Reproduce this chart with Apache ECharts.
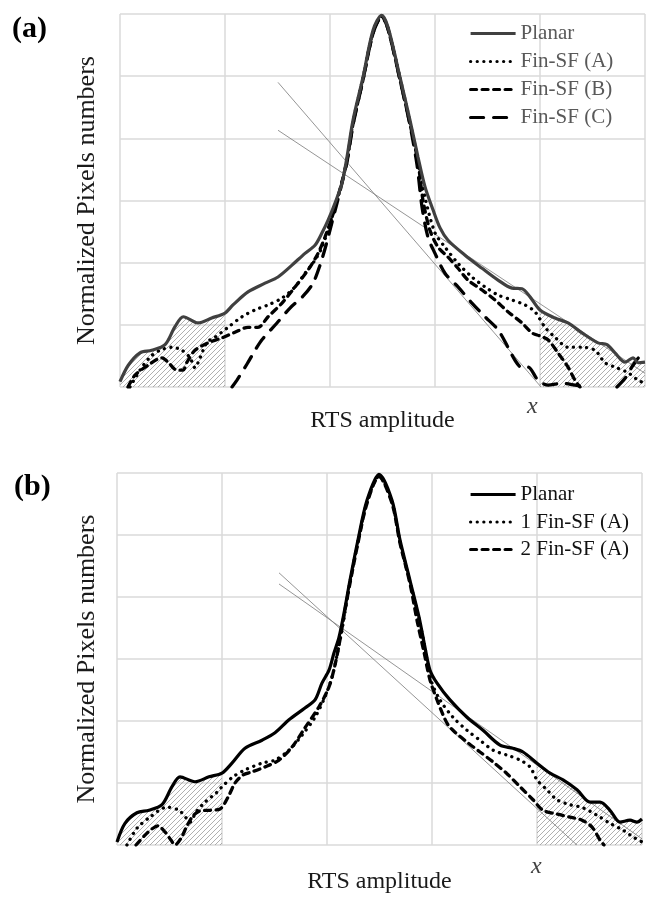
<!DOCTYPE html>
<html>
<head>
<meta charset="utf-8">
<title>RTS amplitude histograms</title>
<script src="https://cdn.jsdelivr.net/npm/echarts@6/dist/echarts.min.js"></script>
<style>
  body { margin: 0; padding: 0; background: #fff; }
  #main { width: 654px; height: 897px; }
</style>
</head>
<body>
<div id="main"></div>
<script>
// panel (a) curves, [amplitude, normalized count]
var planarA = [[0,0.085],[0.79,0.35],[1.9,0.55],[3.02,0.59],[4.29,0.68],[5.24,0.97],[6.03,1.13],[7.43,1.03],[8.73,1.11],[10,1.19],[10.76,1.32],[12.19,1.53],[13.81,1.67],[15.05,1.77],[16.38,1.96],[17.62,2.15],[18.57,2.28],[19.24,2.48],[19.81,2.68],[20.48,2.96],[21.14,3.28],[21.62,3.7],[22.19,4.29],[23.14,4.98],[24.1,5.74],[24.92,5.98],[25.52,5.79],[26.67,4.98],[27.62,4.29],[28.38,3.7],[29.05,3.22],[29.81,2.85],[30.48,2.56],[31.24,2.36],[32.86,2.12],[34.48,1.91],[36,1.72],[37.33,1.59],[38.29,1.58],[39.05,1.45],[40,1.24],[41.43,1.11],[42.67,1.03],[44,0.87],[45.52,0.71],[46.38,0.68],[47.14,0.55],[48.1,0.4],[48.86,0.47],[49.33,0.39],[50,0.4]];
var finA_a = [[0.95,0],[1.9,0.27],[2.86,0.48],[3.81,0.59],[4.95,0.64],[5.9,0.59],[6.67,0.47],[7.14,0.31],[7.62,0.47],[8.29,0.72],[9.05,0.8],[10.29,0.96],[11.62,1.13],[12.86,1.24],[14.1,1.32],[15.43,1.43],[16.67,1.61],[17.62,1.83],[18.57,2.04],[19.24,2.25],[19.81,2.52],[20.29,2.8],[20.95,3.17],[21.62,3.65],[22.19,4.26],[23.14,4.97],[24.1,5.71],[24.92,5.97],[25.52,5.77],[26.67,4.97],[27.62,4.26],[28.38,3.65],[29.05,3.05],[30,2.48],[30.95,2.25],[32.19,1.99],[33.52,1.77],[34.76,1.61],[36,1.48],[37.33,1.4],[38.57,1.32],[39.52,1.21],[40.48,0.96],[41.43,0.8],[42.67,0.64],[44,0.64],[45.24,0.59],[46.19,0.39],[47.14,0.32],[48.38,0.23],[49.33,0.11],[50,0.06]];
var finB_a = [[0.76,0],[1.43,0.19],[2.67,0.35],[4,0.47],[4.57,0.4],[5.43,0.27],[6,0.27],[6.38,0.4],[7.14,0.59],[8.38,0.71],[9.71,0.79],[10.95,0.88],[12.19,0.96],[13.14,0.96],[14.1,1.13],[15.43,1.35],[16.67,1.61],[17.9,1.88],[18.86,2.15],[19.52,2.41],[20.19,2.73],[20.67,3.01],[21.14,3.3],[21.62,3.65],[22.19,4.23],[23.14,4.94],[24.1,5.69],[24.92,5.96],[25.52,5.76],[26.67,4.94],[27.62,4.23],[28.38,3.62],[28.86,3.0],[29.52,2.52],[30.29,2.25],[31.24,2.09],[32.19,1.91],[33.14,1.72],[34.48,1.56],[35.71,1.4],[36.95,1.21],[38.29,1.03],[39.24,0.87],[40,0.82],[40.76,0.76],[41.71,0.55],[42.67,0.32],[43.33,0.11],[43.81,0]];
var finC_a = [[10.67,0],[11.14,0.11],[12.1,0.37],[12.86,0.59],[13.52,0.76],[14.95,1.03],[16.19,1.27],[17.43,1.46],[18.38,1.67],[19.05,1.96],[19.62,2.28],[20.19,2.65],[20.67,2.96],[21.14,3.28],[21.62,3.62],[22.19,4.21],[23.14,4.94],[24.1,5.69],[24.92,5.96],[25.52,5.76],[26.67,4.94],[27.62,4.21],[28.29,3.57],[28.76,2.9],[29.33,2.41],[30,2.15],[30.95,1.83],[32.19,1.61],[33.52,1.35],[34.76,1.13],[36,0.92],[36.95,0.64],[37.62,0.43],[38.29,0.31],[38.86,0.32],[39.81,0.11],[40.76,0.03],[42.1,0.06],[43.33,0.03],[44.29,0],null,[47.33,0],[48.1,0.14],[48.86,0.35],[49.52,0.48],[50,0.4]];

// panel (b) curves
var planarB = [[0,0.05],[0.76,0.35],[1.9,0.52],[3.05,0.56],[4.29,0.65],[5.24,0.94],[6,1.1],[7.43,1.02],[8.76,1.1],[10,1.16],[10.95,1.32],[12.19,1.56],[13.81,1.69],[15.05,1.81],[16.38,2.02],[17.9,2.21],[18.86,2.34],[19.52,2.61],[20.19,2.82],[20.67,3.1],[21.14,3.35],[21.62,3.74],[22.19,4.27],[22.95,4.92],[23.81,5.56],[24.95,5.98],[26.19,5.56],[26.95,4.92],[27.9,4.27],[28.76,3.68],[29.33,3.19],[29.81,2.82],[30.48,2.61],[31.71,2.34],[33.33,2.06],[34.86,1.85],[36.48,1.61],[37.71,1.56],[38.67,1.5],[40,1.32],[41.24,1.16],[42.48,1.05],[43.81,0.89],[45.05,0.69],[46,0.69],[46.95,0.56],[47.9,0.37],[48.86,0.4],[49.52,0.37],[50,0.42]];
var fin1_b = [[0.95,0],[1.9,0.27],[3.14,0.45],[4.76,0.61],[5.9,0.56],[6.57,0.44],[6.95,0.37],[7.52,0.53],[8.38,0.69],[9.52,0.85],[10,0.94],[11.05,1.1],[12.19,1.21],[13.81,1.32],[15.05,1.37],[16.38,1.53],[17.62,1.77],[18.86,2.06],[19.81,2.39],[20.48,2.71],[20.95,3.06],[21.43,3.47],[22.19,4.24],[22.95,4.89],[23.81,5.53],[24.95,5.95],[26.19,5.53],[26.95,4.89],[27.9,4.24],[28.76,3.65],[29.33,3.18],[29.9,2.66],[30.76,2.34],[32,2.06],[33.33,1.85],[34.57,1.69],[35.81,1.53],[37.14,1.45],[38.38,1.37],[39.33,1.26],[40,1.05],[40.95,0.89],[41.9,0.73],[43.14,0.65],[44.38,0.6],[45.71,0.48],[46.95,0.35],[48.19,0.24],[49.14,0.13],[50,0.05]];
var fin2_b = [[1.81,0],[2.67,0.16],[3.33,0.26],[3.9,0.31],[4.57,0.21],[5.14,0.08],[5.52,0],[6.1,0.11],[6.67,0.31],[7.24,0.47],[7.9,0.55],[8.86,0.56],[9.81,0.58],[10.57,0.77],[11.24,1.0],[12,1.13],[12.86,1.18],[14.1,1.26],[15.43,1.37],[16.67,1.58],[17.9,1.89],[19.24,2.23],[20.19,2.55],[20.76,2.9],[21.24,3.31],[21.62,3.7],[22.19,4.22],[22.95,4.87],[23.81,5.51],[24.95,5.94],[26.19,5.51],[26.95,4.87],[27.9,4.22],[28.6,3.6],[29.24,3.11],[29.81,2.66],[30.48,2.34],[31.05,2.1],[31.52,1.94],[32.19,1.82],[33.33,1.66],[34.57,1.5],[35.81,1.34],[37.14,1.15],[38.38,0.94],[39.62,0.73],[40.57,0.56],[41.9,0.5],[43.14,0.45],[44.29,0.4],[45.24,0.29],[46,0.08],[46.38,0]];

// thin tangent lines
var tangentA1 = [[15.05,4.9],[40.1,0]];
var tangentA2 = [[15.05,4.13],[50,0.22]];
var tangentB1 = [[15.43,4.39],[43.8,0]];
var tangentB2 = [[15.43,4.21],[50,0.1]];

// hatched tails
var tailLeftEnd = 10;
var tailRightStart = 40;

var legendA = ['Planar', 'Fin-SF (A)', 'Fin-SF (B)', 'Fin-SF (C)'];
var legendB = ['Planar #b', '1 Fin-SF (A)', '2 Fin-SF (A)'];

var serif = '"Liberation Serif", "DejaVu Serif", serif';

// diagonal hatch tile
var hatch = (function () {
  var c = document.createElement('canvas');
  c.width = 5; c.height = 5;
  var g = c.getContext('2d');
  g.strokeStyle = '#9c9c9c';
  g.lineWidth = 0.8;
  g.beginPath();
  g.moveTo(0, 5); g.lineTo(5, 0);
  g.moveTo(-1, 1); g.lineTo(1, -1);
  g.moveTo(4, 6); g.lineTo(6, 4);
  g.stroke();
  return c;
})();

var styles = {
  solidA: { color: '#404040', width: 3.2, type: 'solid' },
  solidB: { color: '#000', width: 3.2, type: 'solid' },
  dot: { color: '#000', width: 3.3, type: [0.1, 6.5], cap: 'round' },
  dash: { color: '#000', width: 3.3, type: [6, 5.5], cap: 'round' },
  longDash: { color: '#000', width: 3.3, type: [13, 10], cap: 'round' }
};

function curve(name, data, idx, ls) {
  return {
    name: name, type: 'line', data: data,
    xAxisIndex: idx, yAxisIndex: idx,
    symbol: 'none', smooth: 0.3, z: 5,
    lineStyle: ls, connectNulls: false
  };
}
function thin(name, data, idx) {
  return {
    name: name, type: 'line', data: data,
    xAxisIndex: idx, yAxisIndex: idx,
    symbol: 'none', silent: true, z: 4,
    lineStyle: { color: '#7a7a7a', width: 0.8 }
  };
}
function tail(name, data, idx) {
  return {
    name: name, type: 'line', data: data,
    xAxisIndex: idx, yAxisIndex: idx,
    symbol: 'none', smooth: 0.3, silent: true, z: 2,
    lineStyle: { color: '#b0b0b0', width: 1 },
    areaStyle: { color: { image: hatch, repeat: 'repeat' }, opacity: 1 }
  };
}

function xAx(idx) {
  return {
    type: 'value', gridIndex: idx, min: 0, max: 50, interval: 10,
    name: 'RTS amplitude', nameLocation: 'middle', nameGap: idx ? 25 : 22,
    nameTextStyle: { fontFamily: serif, fontSize: 24, color: '#1a1a1a' },
    axisLabel: { show: false }, axisTick: { show: false },
    axisLine: { show: false },
    splitLine: { show: true, lineStyle: { color: '#dadada', width: 1.5 } }
  };
}
function yAx(idx) {
  return {
    type: 'value', gridIndex: idx, min: 0, max: 6, interval: 1,
    name: 'Normalized Pixels numbers', nameLocation: 'middle', nameGap: idx ? 17 : 20,
    nameTextStyle: { fontFamily: serif, fontSize: 26, color: '#1a1a1a' },
    axisLabel: { show: false }, axisTick: { show: false },
    axisLine: { show: false },
    splitLine: { show: true, lineStyle: { color: '#dadada', width: 1.5 } }
  };
}

function legendBox(names, top, gap, color) {
  return {
    data: names, orient: 'vertical', left: 464, top: top,
    itemWidth: 45, itemHeight: 18, itemGap: gap,
    selectedMode: false,
    itemStyle: { opacity: 0 },
    lineStyle: { width: 3.2 },
    formatter: function (n) { return n.replace(' #b', ''); },
    textStyle: { fontFamily: serif, fontSize: 21, lineHeight: 20, color: color }
  };
}

var chart = echarts.init(document.getElementById('main'), null, { renderer: 'canvas' });
chart.setOption({
  animation: false,
  grid: [
    { left: 120, top: 14, width: 525, height: 373 },
    { left: 117, top: 473, width: 525, height: 372 }
  ],
  xAxis: [xAx(0), xAx(1)],
  yAxis: [yAx(0), yAx(1)],
  legend: [legendBox(legendA, 18, 7, '#595959'), legendBox(legendB, 479, 6.5, '#111')],
  graphic: [
    { type: 'text', left: 12, top: 14, style: { text: '(a)', font: 'bold 30px ' + serif, fill: '#000' } },
    { type: 'text', left: 14, top: 472, style: { text: '(b)', font: 'bold 30px ' + serif, fill: '#000' } },
    { type: 'text', left: 527, top: 395, style: { text: 'x', font: 'italic 24px ' + serif, fill: '#404040' } },
    { type: 'text', left: 531, top: 855, style: { text: 'x', font: 'italic 24px ' + serif, fill: '#404040' } }
  ],
  series: [
    tail('tailA-left', planarA.filter(function (p) { return p[0] <= tailLeftEnd; }), 0),
    tail('tailA-right', planarA.filter(function (p) { return p[0] >= tailRightStart; }), 0),
    thin('tangentA1', tangentA1, 0),
    thin('tangentA2', tangentA2, 0),
    curve('Fin-SF (C)', finC_a, 0, styles.longDash),
    curve('Fin-SF (B)', finB_a, 0, styles.dash),
    curve('Fin-SF (A)', finA_a, 0, styles.dot),
    curve('Planar', planarA, 0, styles.solidA),

    tail('tailB-left', planarB.filter(function (p) { return p[0] <= tailLeftEnd; }), 1),
    tail('tailB-right', planarB.filter(function (p) { return p[0] >= tailRightStart; }), 1),
    thin('tangentB1', tangentB1, 1),
    thin('tangentB2', tangentB2, 1),
    curve('2 Fin-SF (A)', fin2_b, 1, styles.dash),
    curve('1 Fin-SF (A)', fin1_b, 1, styles.dot),
    curve('Planar #b', planarB, 1, styles.solidB)
  ]
});
</script>
</body>
</html>
